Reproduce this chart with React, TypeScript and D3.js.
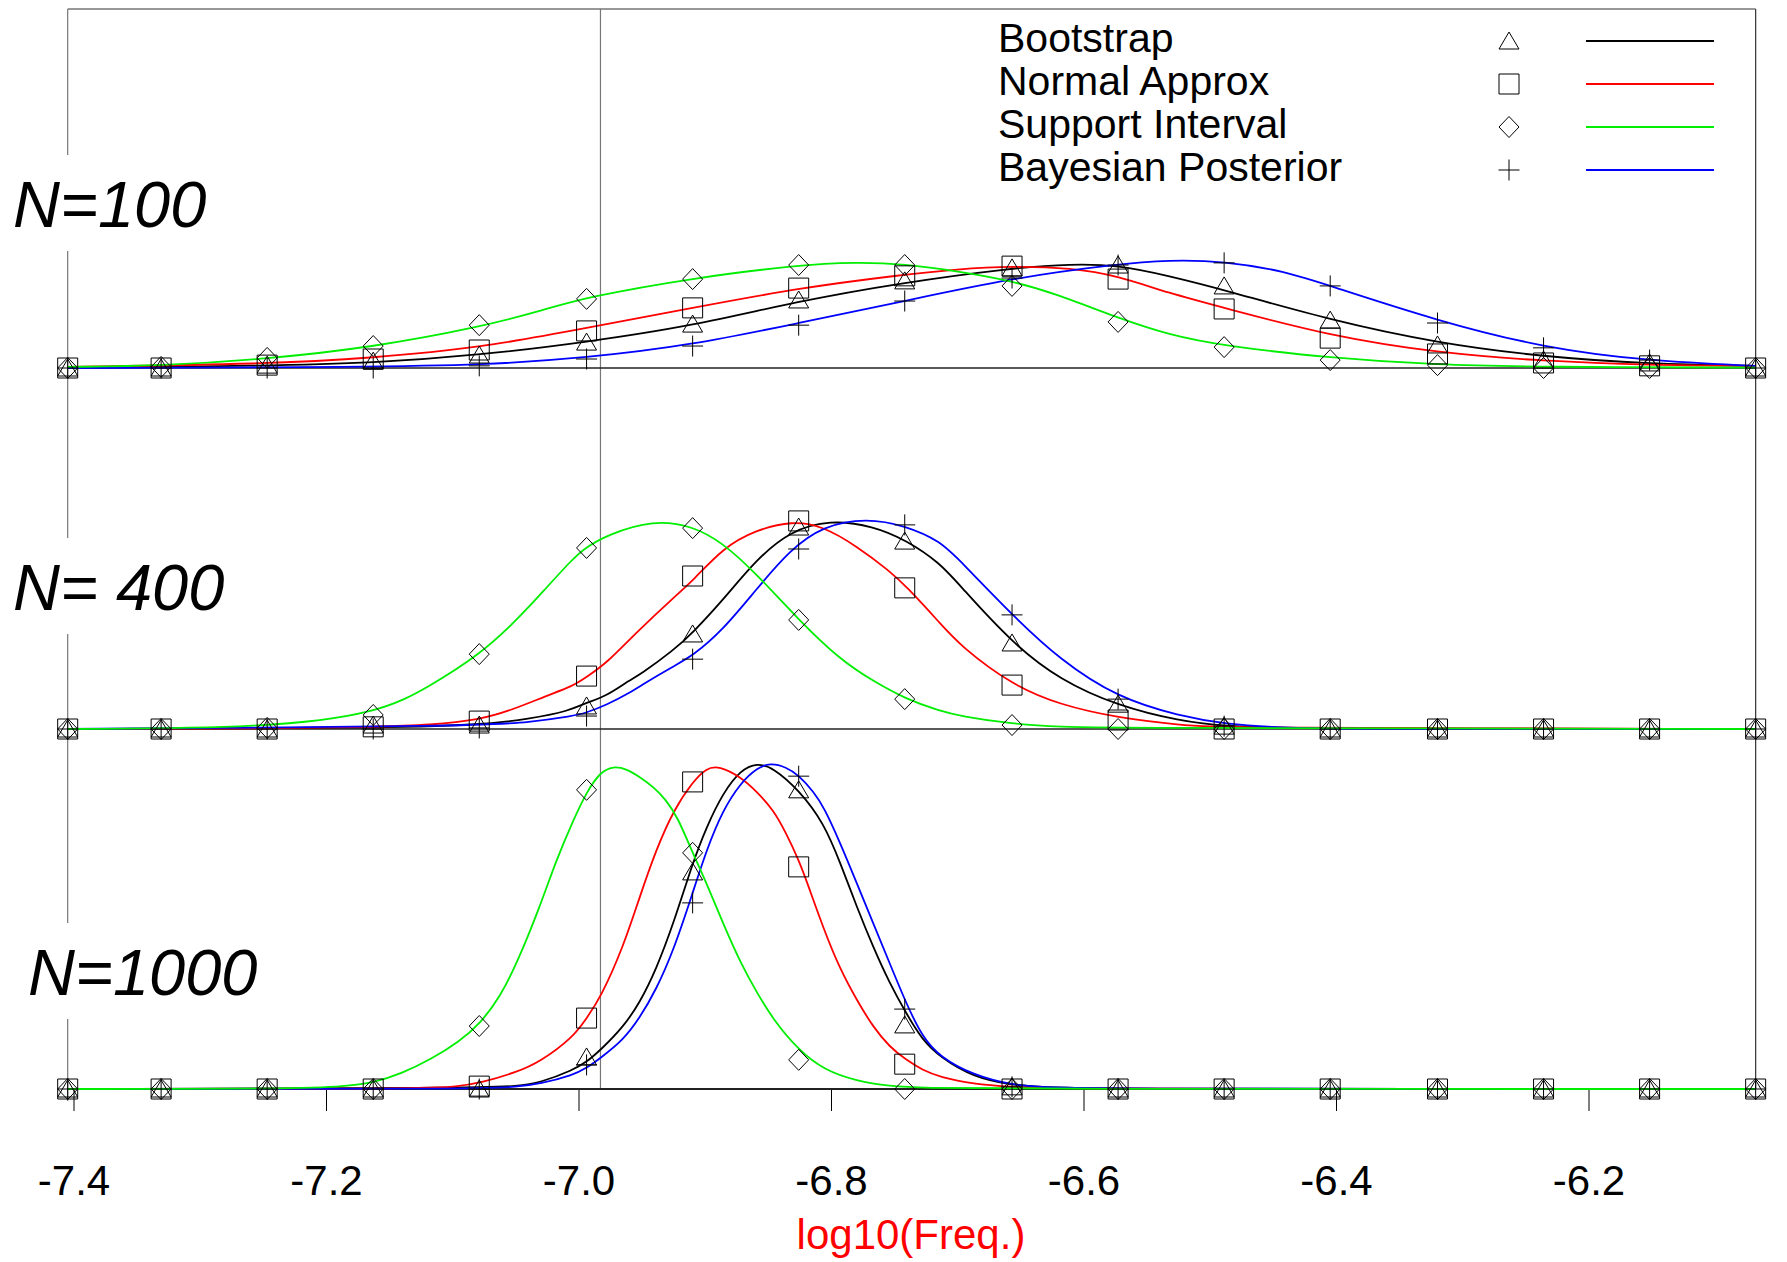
import React from 'react';
import * as d3 from 'd3';

const W = 1787;
const H = 1262;

// bin centres where the markers sit (log10 freq)
const binX = [-7.405, -7.331, -7.247, -7.163, -7.079, -6.994, -6.91, -6.826, -6.742, -6.657, -6.573, -6.489, -6.405, -6.32, -6.236, -6.152, -6.068];

const seriesNames = ['Bootstrap', 'Normal Approx', 'Support Interval', 'Bayesian Posterior'];
const seriesColors = ['#000000', '#ff0000', '#00ee00', '#0000ff'];
const panelLabels = ['N=100', 'N= 400', 'N=1000'];
const xTicks = [-7.4, -7.2, -7.0, -6.8, -6.6, -6.4, -6.2];
const refLine = -6.983;

// ---- markers (density) ----
const boot100 = [0, 0, 0.08, 0.19, 0.36, 0.72, 1.22, 1.89, 2.42, 2.78, 2.86, 2.28, 1.33, 0.64, 0.22, 0.14, 0];
const norm100 = [0, 0, 0.08, 0.25, 0.5, 1.03, 1.67, 2.22, 2.56, 2.83, 2.47, 1.64, 0.83, 0.39, 0.14, 0.06, 0];
const supp100 = [0, 0.03, 0.28, 0.61, 1.19, 1.92, 2.47, 2.86, 2.86, 2.28, 1.28, 0.58, 0.22, 0.08, 0, 0, 0];
const bayes100 = [0, 0, 0, 0, 0.06, 0.25, 0.61, 1.19, 1.86, 2.5, 2.86, 2.92, 2.28, 1.25, 0.56, 0.22, 0];

const boot400 = [0, 0, 0, 0.11, 0.11, 0.64, 2.64, 5.61, 5.22, 2.39, 0.69, 0.08, 0, 0, 0, 0, 0];
const norm400 = [0, 0, 0, 0.06, 0.22, 1.47, 4.25, 5.78, 3.92, 1.22, 0.25, 0, 0, 0, 0, 0, 0];
const supp400 = [0, 0, 0.03, 0.39, 2.08, 5.03, 5.58, 3.03, 0.83, 0.11, 0, 0, 0, 0, 0, 0, 0];
const bayes400 = [0, 0, 0, 0, 0.03, 0.36, 1.94, 5.0, 5.67, 3.17, 0.83, 0.08, 0, 0, 0, 0, 0];

const boot1000 = [0, 0, 0, 0, 0, 0.89, 6.03, 8.31, 1.78, 0.06, 0, 0, 0, 0, 0, 0, 0];
const norm1000 = [0, 0, 0, 0, 0.08, 1.97, 8.53, 6.17, 0.69, 0, 0, 0, 0, 0, 0, 0, 0];
const supp1000 = [0, 0, 0, 0, 1.75, 8.31, 6.56, 0.81, 0, 0, 0, 0, 0, 0, 0, 0, 0];
const bayes1000 = [0, 0, 0, 0, 0, 0.67, 5.17, 8.69, 2.22, 0.06, 0, 0, 0, 0, 0, 0, 0];

// ---- smooth curves ----
const bootCurveX100 = [-7.405, -7.247, -7.163, -7.078, -6.994, -6.91, -6.826, -6.746, -6.657, -6.61, -6.573, -6.533, -6.489, -6.405, -6.32, -6.236, -6.152, -6.068];
const bootCurveY100 = [0.01, 0.06, 0.14, 0.36, 0.72, 1.17, 1.86, 2.36, 2.78, 2.89, 2.86, 2.56, 2.17, 1.33, 0.69, 0.31, 0.11, 0.06];
const normCurveX100 = [-7.405, -7.247, -7.163, -7.078, -6.994, -6.91, -6.826, -6.746, -6.7, -6.657, -6.61, -6.573, -6.533, -6.489, -6.405, -6.32, -6.236, -6.152, -6.068];
const normCurveY100 = [0.03, 0.11, 0.28, 0.56, 1.11, 1.67, 2.22, 2.58, 2.75, 2.83, 2.78, 2.56, 2.08, 1.67, 0.89, 0.42, 0.19, 0.08, 0.06];
const suppCurveX100 = [-7.405, -7.331, -7.247, -7.163, -7.078, -7.031, -6.994, -6.91, -6.826, -6.781, -6.742, -6.7, -6.657, -6.624, -6.573, -6.533, -6.489, -6.405, -6.32, -6.236, -6.068];
const suppCurveY100 = [0.03, 0.06, 0.25, 0.58, 1.14, 1.58, 1.97, 2.5, 2.86, 2.94, 2.89, 2.69, 2.42, 2.08, 1.39, 0.92, 0.61, 0.28, 0.08, 0.03, 0.01];
const bayesCurveX100 = [-7.405, -7.163, -7.078, -6.994, -6.91, -6.826, -6.746, -6.657, -6.573, -6.533, -6.489, -6.441, -6.405, -6.32, -6.236, -6.152, -6.068];
const bayesCurveY100 = [0, 0.03, 0.08, 0.28, 0.64, 1.25, 1.83, 2.5, 2.89, 3.0, 2.97, 2.69, 2.28, 1.31, 0.56, 0.19, 0.06];

const bootCurveX400 = [-7.405, -7.158, -7.079, -7.039, -7.008, -6.995, -6.978, -6.96, -6.952, -6.925, -6.91, -6.886, -6.86, -6.833, -6.801, -6.767, -6.741, -6.714, -6.698, -6.657, -6.619, -6.573, -6.524, -6.489, -6.441, -6.068];
const bootCurveY400 = [0, 0.03, 0.11, 0.28, 0.5, 0.72, 0.92, 1.36, 1.5, 2.19, 2.67, 3.58, 4.69, 5.5, 5.81, 5.64, 5.25, 4.61, 3.97, 2.39, 1.36, 0.64, 0.22, 0.08, 0.01, 0];
const normCurveX400 = [-7.405, -7.247, -7.158, -7.118, -7.079, -7.053, -7.026, -7.005, -6.995, -6.978, -6.955, -6.923, -6.91, -6.886, -6.86, -6.831, -6.807, -6.78, -6.754, -6.741, -6.714, -6.698, -6.657, -6.619, -6.573, -6.524, -6.489, -6.068];
const normCurveY400 = [0, 0.01, 0.06, 0.11, 0.25, 0.53, 0.92, 1.19, 1.42, 1.83, 2.67, 3.72, 4.11, 5.03, 5.53, 5.78, 5.64, 5.08, 4.39, 3.97, 2.94, 2.31, 1.22, 0.67, 0.31, 0.11, 0.03, 0];
const suppCurveX400 = [-7.405, -7.247, -7.158, -7.118, -7.079, -7.052, -7.039, -7.031, -7.0045, -6.995, -6.978, -6.941, -6.91, -6.886, -6.86, -6.826, -6.793, -6.767, -6.741, -6.714, -6.698, -6.657, -6.619, -6.573, -6.068];
const suppCurveY400 = [0, 0.03, 0.44, 1.19, 2.06, 2.94, 3.42, 3.72, 4.75, 5.03, 5.39, 5.81, 5.64, 5.17, 4.33, 3.03, 1.92, 1.33, 0.83, 0.5, 0.36, 0.14, 0.06, 0.03, 0];
const bayesCurveX400 = [-7.405, -7.079, -7.039, -7.005, -6.995, -6.978, -6.96, -6.952, -6.925, -6.91, -6.886, -6.86, -6.833, -6.807, -6.772, -6.741, -6.714, -6.698, -6.657, -6.619, -6.573, -6.524, -6.489, -6.441, -6.405, -6.068];
const bayesCurveY400 = [0, 0.08, 0.19, 0.36, 0.44, 0.67, 1.0, 1.19, 1.75, 2.03, 2.75, 3.86, 4.97, 5.64, 5.86, 5.64, 5.22, 4.67, 3.17, 1.92, 0.86, 0.36, 0.14, 0.03, 0, 0];

const bootCurveX1000 = [-7.405, -7.078, -7.049, -7.031, -7.0045, -6.994, -6.983, -6.965, -6.952, -6.939, -6.925, -6.91, -6.899, -6.886, -6.872, -6.859, -6.846, -6.826, -6.806, -6.793, -6.78, -6.767, -6.754, -6.741, -6.728, -6.714, -6.688, -6.657, -6.635, -6.6, -6.068];
const bootCurveY1000 = [0, 0.03, 0.08, 0.17, 0.53, 0.75, 1.08, 1.72, 2.39, 3.31, 4.61, 6.28, 7.28, 8.22, 8.86, 9.06, 8.92, 8.31, 7.39, 6.28, 5.06, 3.94, 2.94, 2.11, 1.36, 0.89, 0.33, 0.11, 0.06, 0, 0];
const normCurveX1000 = [-7.405, -7.14, -7.095, -7.078, -7.049, -7.031, -7.0045, -6.994, -6.983, -6.965, -6.952, -6.939, -6.925, -6.91, -6.899, -6.889, -6.872, -6.859, -6.846, -6.836, -6.826, -6.82, -6.806, -6.793, -6.78, -6.767, -6.754, -6.741, -6.728, -6.714, -6.688, -6.657, -6.624, -6.068];
const normCurveY1000 = [0, 0, 0.06, 0.17, 0.47, 0.75, 1.44, 1.97, 2.53, 3.94, 5.33, 6.64, 7.75, 8.53, 8.92, 8.97, 8.67, 8.25, 7.75, 7.11, 6.36, 5.81, 4.42, 3.31, 2.47, 1.72, 1.17, 0.81, 0.53, 0.33, 0.14, 0.06, 0, 0];
const suppCurveX1000 = [-7.405, -7.247, -7.186, -7.163, -7.14, -7.118, -7.095, -7.078, -7.063, -7.049, -7.031, -7.018, -7.0045, -6.994, -6.983, -6.973, -6.962, -6.952, -6.941, -6.931, -6.922, -6.91, -6.899, -6.886, -6.872, -6.859, -6.846, -6.826, -6.806, -6.78, -6.754, -6.728, -6.657, -6.068];
const suppCurveY1000 = [0, 0, 0.06, 0.17, 0.44, 0.81, 1.31, 1.83, 2.53, 3.5, 5.06, 6.36, 7.47, 8.25, 8.81, 8.97, 8.89, 8.67, 8.39, 8.03, 7.56, 6.56, 5.72, 4.61, 3.5, 2.67, 1.92, 1.08, 0.53, 0.22, 0.08, 0.03, 0, 0];
const bayesCurveX1000 = [-7.405, -7.078, -7.049, -7.031, -7.0045, -6.994, -6.983, -6.965, -6.952, -6.939, -6.925, -6.91, -6.899, -6.886, -6.872, -6.859, -6.848, -6.836, -6.826, -6.814, -6.806, -6.793, -6.78, -6.767, -6.754, -6.741, -6.728, -6.714, -6.688, -6.657, -6.635, -6.6, -6.068];
const bayesCurveY1000 = [0, 0, 0.06, 0.14, 0.39, 0.58, 0.86, 1.36, 1.97, 2.75, 3.86, 5.44, 6.64, 7.75, 8.5, 8.92, 9.06, 8.94, 8.72, 8.25, 7.83, 6.83, 5.72, 4.61, 3.5, 2.39, 1.44, 0.89, 0.39, 0.11, 0.06, 0, 0];

const panels = [
  {
    label: panelLabels[0],
    markers: [boot100, norm100, supp100, bayes100],
    curves: [[bootCurveX100, bootCurveY100], [normCurveX100, normCurveY100], [suppCurveX100, suppCurveY100], [bayesCurveX100, bayesCurveY100]],
  },
  {
    label: panelLabels[1],
    markers: [boot400, norm400, supp400, bayes400],
    curves: [[bootCurveX400, bootCurveY400], [normCurveX400, normCurveY400], [suppCurveX400, suppCurveY400], [bayesCurveX400, bayesCurveY400]],
  },
  {
    label: panelLabels[2],
    markers: [boot1000, norm1000, supp1000, bayes1000],
    curves: [[bootCurveX1000, bootCurveY1000], [normCurveX1000, normCurveY1000], [suppCurveX1000, suppCurveY1000], [bayesCurveX1000, bayesCurveY1000]],
  },
];

// marker shapes: triangle, square, diamond, plus
const markerPaths = [
  'M0,-9L10,8L-10,8Z',
  'M-10,-10H10V10H-10Z',
  'M0,-10.5L10,0L0,10.5L-10,0Z',
  'M-10.5,0H10.5M0,-10.5V10.5',
];

const font = '"Liberation Sans", Arial, Helvetica, sans-serif';

const App = () => {
  const x = d3.scaleLinear().domain([-7.4, -6.2]).range([74, 1589]);
  const left = x(binX[0]);
  const right = x(binX[binX.length - 1]);
  const baselines = [368, 729, 1089];
  const panelH = 360;
  const top = baselines[0] - 359;
  // label positions and white boxes hiding the left frame line
  const labelPos = [
    { x: 13, y: 227, w: 212 },
    { x: 13, y: 610, w: 228 },
    { x: 28, y: 995, w: 262 },
  ];
  const ordered = [0, 1, 3, 2]; // green goes on top

  return (
    <svg width={W} height={H} style={{ position: 'absolute', left: 0, top: 0, background: '#fff' }} fontFamily={font}>
      <rect width={W} height={H} fill="#fff" />
      {/* frame */}
      <line x1={left} x2={right} y1={top} y2={top} stroke="#333" strokeWidth={1.2} />
      <line x1={left} x2={left} y1={top} y2={baselines[2] + 12} stroke="#777" strokeWidth={1.2} />
      <line x1={right} x2={right} y1={top} y2={baselines[2]} stroke="#333" strokeWidth={1.2} />
      <line x1={x(refLine)} x2={x(refLine)} y1={top} y2={baselines[2]} stroke="#777" strokeWidth={1.2} />

      {panels.map((p, pi) => {
        const base = baselines[pi];
        const y = d3.scaleLinear().domain([0, 10]).range([base, base - panelH]);
        const line = d3.line<[number, number]>()
          .x(d => x(d[0]))
          .y(d => y(d[1]))
          .curve(d3.curveBasis);
        const lp = labelPos[pi];
        return (
          <g key={pi}>
            <line x1={left} x2={right} y1={base} y2={base} stroke="#222" strokeWidth={pi === 2 ? 2 : 1.3} />
            <rect x={0} y={lp.y - 72} width={lp.w} height={96} fill="#fff" />
            <text x={lp.x} y={lp.y} fontSize={65} fontStyle="italic" fill="#000">{p.label}</text>
            {ordered.map(si => {
              const [cx, cy] = p.curves[si];
              const pts = cx.map((v, i) => [v, cy[i]] as [number, number]);
              return <path key={si} d={line(pts) || ''} fill="none" stroke={seriesColors[si]} strokeWidth={1.8} />;
            })}
            {p.markers.map((vals, si) => (
              <g key={si}>
                {vals.map((v, i) => (
                  <path key={i} d={markerPaths[si]} transform={`translate(${x(binX[i])},${y(v)})`}
                    fill="none" stroke="#000" strokeWidth={1} />
                ))}
              </g>
            ))}
          </g>
        );
      })}

      {/* x axis */}
      {xTicks.map(t => (
        <g key={t}>
          <line x1={x(t)} x2={x(t)} y1={baselines[2] + 1} y2={baselines[2] + 22} stroke="#000" strokeWidth={1} />
          <text x={x(t)} y={1195} fontSize={42} textAnchor="middle" fill="#000">{t.toFixed(1)}</text>
        </g>
      ))}
      <text x={911} y={1249} fontSize={42} textAnchor="middle" fill="#ff0000">log10(Freq.)</text>

      {/* legend */}
      {seriesNames.map((name, i) => (
        <g key={name}>
          <text x={998} y={52 + i * 43} fontSize={41} fill="#000">{name}</text>
          <path d={markerPaths[i]} transform={`translate(1509,${41 + i * 43})`} fill="none" stroke="#000" strokeWidth={1} />
          <line x1={1586} x2={1714} y1={41 + i * 43} y2={41 + i * 43} stroke={seriesColors[i]} strokeWidth={1.8} />
        </g>
      ))}
    </svg>
  );
};

export default App;
